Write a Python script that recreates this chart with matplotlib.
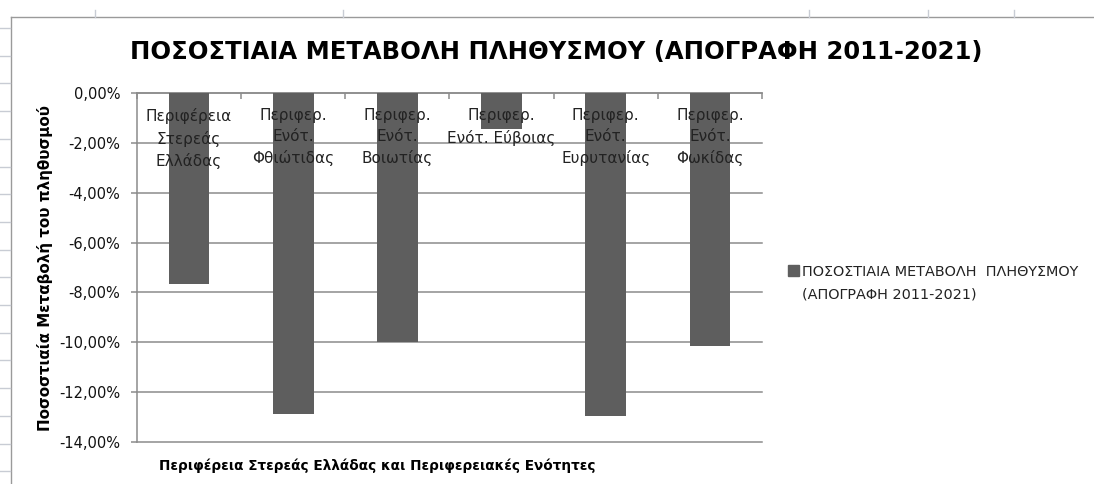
import matplotlib
matplotlib.use("Agg")
import matplotlib.pyplot as plt
from matplotlib.lines import Line2D
from matplotlib.ticker import FuncFormatter, MultipleLocator
import numpy as np

plt.rcParams['font.family'] = ['DejaVu Sans']

# data
categories = [
    "Περιφέρεια\nΣτερεάς\nΕλλάδας",
    "Περιφερ.\nΕνότ.\nΦθιώτιδας",
    "Περιφερ.\nΕνότ.\nΒοιωτίας",
    "Περιφερ.\nΕνότ. Εύβοιας",
    "Περιφερ.\nΕνότ.\nΕυρυτανίας",
    "Περιφερ.\nΕνότ.\nΦωκίδας",
]
change_pct = [-7.66, -12.88, -10.0, -1.44, -12.96, -10.15]

title = "ΠΟΣΟΣΤΙΑΙΑ ΜΕΤΑΒΟΛΗ ΠΛΗΘΥΣΜΟΥ (ΑΠΟΓΡΑΦΗ 2011-2021)"
series_name = "ΠΟΣΟΣΤΙΑΙΑ ΜΕΤΑΒΟΛΗ  ΠΛΗΘΥΣΜΟΥ\n(ΑΠΟΓΡΑΦΗ 2011-2021)"
ylabel = "Ποσοστιαία Μεταβολή του πληθυσμού"
xlabel = "Περιφέρεια Στερεάς Ελλάδας και Περιφερειακές Ενότητες"

bar_color = "#5e5e5e"
grid_color = "#8c8c8c"
W, H = 1094, 484

fig = plt.figure(figsize=(W / 100, H / 100), dpi=100)
ax = fig.add_axes([137 / W, 1 - 442 / H, 625 / W, 349 / H])

x = np.arange(len(categories))
ax.bar(x, change_pct, width=0.39, color=bar_color, zorder=3)

ax.set_xlim(-0.5, len(categories) - 0.5)
ax.set_ylim(-14, 0)
ax.yaxis.set_major_locator(MultipleLocator(2))
ax.yaxis.set_major_formatter(FuncFormatter(lambda v, p: f"{v:.2f}%".replace(".", ",")))
ax.grid(axis='y', color=grid_color, linewidth=1.1, zorder=0)
ax.set_axisbelow(True)
for gl in ax.get_ygridlines():
    gl.set_clip_on(False)

for s in ['right', 'bottom']:
    ax.spines[s].set_visible(False)
for s in ['left', 'top']:
    ax.spines[s].set_color(grid_color)
    ax.spines[s].set_linewidth(1.1)

ax.tick_params(axis='y', length=4, width=1.1, color=grid_color, labelsize=10.5,
               labelcolor='#111111', pad=8)
ax.xaxis.set_ticks_position('top')
ax.set_xticks(np.arange(len(categories) + 1) - 0.5)
ax.set_xticklabels([])
ax.tick_params(axis='x', direction='in', length=4, width=1.1, color=grid_color)

for i, lab in enumerate(categories):
    ax.annotate(lab, xy=(i, 0), xytext=(0, -11), textcoords='offset points',
                ha='center', va='top', fontsize=11, color='#222222',
                multialignment='center', linespacing=1.48, zorder=4)

fig.text(556 / W, 1 - 52 / H, title, ha='center', va='center', fontsize=17.5,
         fontweight='bold', color='#000000')
fig.text(45 / W, 1 - 268 / H, ylabel, rotation=90, ha='center', va='center',
         fontsize=10.9, fontweight='bold', color='#000000')
fig.text(377 / W, 1 - 466 / H, xlabel, ha='center', va='center',
         fontsize=9.8, fontweight='bold', color='#000000')

# legend
fig.patches.append(plt.Rectangle((788 / W, 1 - 276 / H), 11 / W, 11 / H,
                                 transform=fig.transFigure, color=bar_color))
fig.text(802 / W, 1 - 283 / H, series_name, ha='left', va='center', fontsize=10.4,
         color='#222222', linespacing=1.75)

# spreadsheet frame around the chart
border = "#9a9a9a"
cell = "#c8ccd4"
fig.add_artist(Line2D([11 / W, 11 / W], [0, 1 - 17 / H], color=border, lw=1))
fig.add_artist(Line2D([11 / W, 1], [1 - 17 / H, 1 - 17 / H], color=border, lw=1))
for yy in np.arange(28, 480, 27.7):
    fig.add_artist(Line2D([0, 10 / W], [1 - yy / H, 1 - yy / H], color=cell, lw=1))
for xx in [95, 343, 809, 928, 1014]:
    fig.add_artist(Line2D([xx / W, xx / W], [1 - 10 / H, 1 - 17 / H], color=cell, lw=1))

fig.savefig("out.png", dpi=100, facecolor='white')
